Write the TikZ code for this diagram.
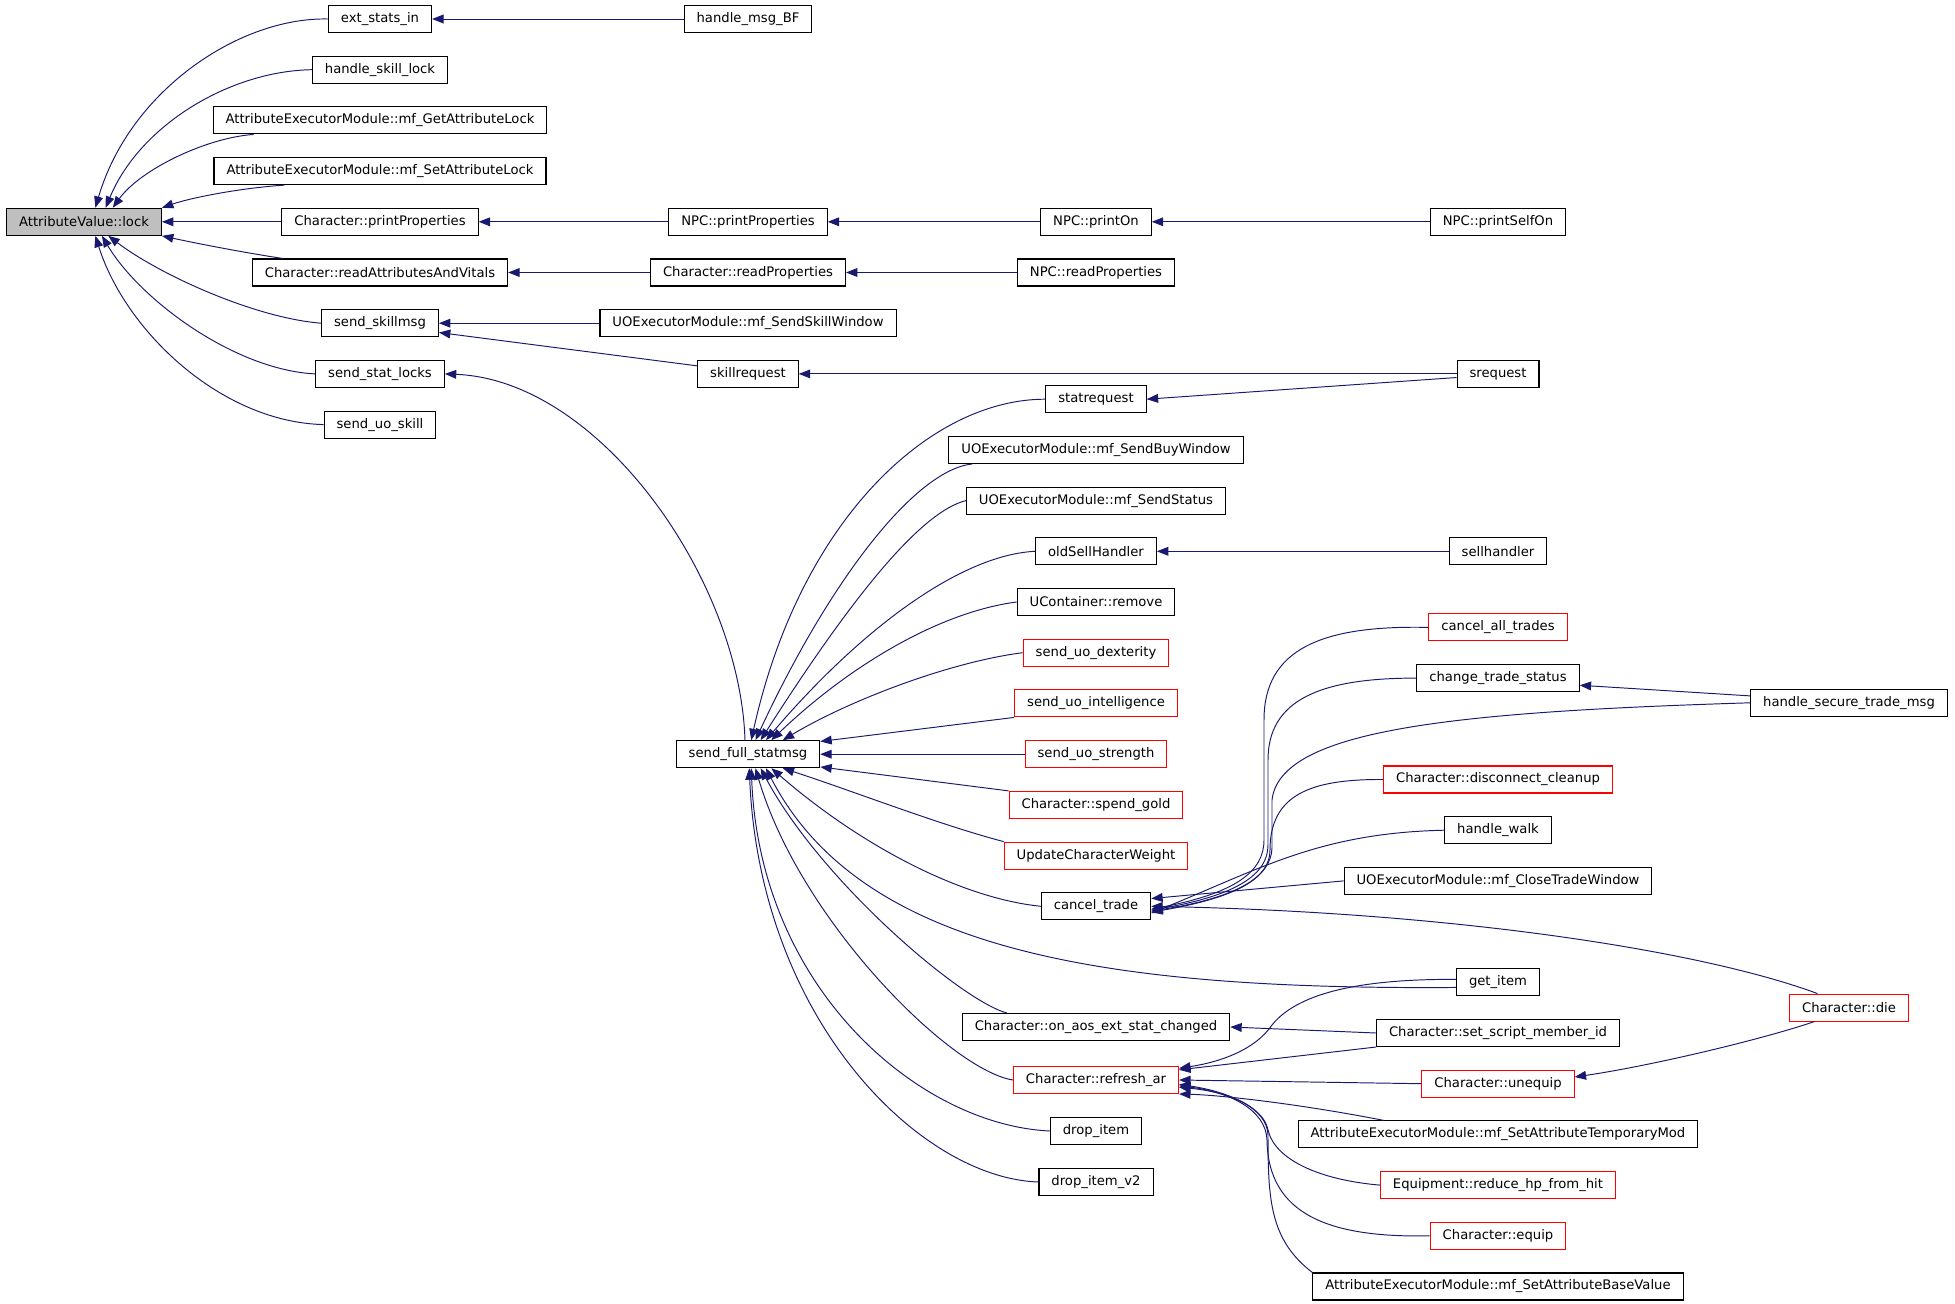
\documentclass[tikz,border=0pt]{standalone}
\usepackage{fontspec}
\setmainfont{DejaVu Sans}
\usepackage{xcolor}
\usepackage{tikz}
\usetikzlibrary{arrows.meta}
\usetikzlibrary{calc}

\definecolor{edgeblue}{HTML}{191970}
\definecolor{redline}{HTML}{FF0000}
\definecolor{mainfill}{HTML}{BFBFBF}

\tikzset{
  fn/.style={draw=black, line width=0.6pt, rectangle, fill=white, minimum height=0.54cm,
    inner xsep=0.25cm, inner ysep=0pt, font=\fontsize{7.5}{9}\selectfont},
  fnred/.style={fn, draw=redline},
  callarrow/.style={draw=edgeblue, line width=0.55pt, -{Triangle[length=6.5pt,width=5pt]}}
}

\begin{document}
\begin{tikzpicture}[x=0.02cm, y=-0.02cm]
        \useasboundingbox (0,0) rectangle (1955,1304);
        \node[fn, fill=mainfill] (lock) at (84,221.8) {AttributeValue::lock};
        \node[fn] (extin) at (380,19) {ext\_stats\_in};
        \node[fn] (skilllock) at (380,69.7) {handle\_skill\_lock};
        \node[fn] (getlock) at (380,120.4) {AttributeExecutorModule::mf\_GetAttributeLock};
        \node[fn] (setlock) at (380,171.1) {AttributeExecutorModule::mf\_SetAttributeLock};
        \node[fn] (chprint) at (380,221.8) {Character::printProperties};
        \node[fn] (readattr) at (380,272.5) {Character::readAttributesAndVitals};
        \node[fn] (skillmsg) at (380,323.2) {send\_skillmsg};
        \node[fn] (statlocks) at (380,373.9) {send\_stat\_locks};
        \node[fn] (uoskill) at (380,424.6) {send\_uo\_skill};

        \node[fn] (msgbf) at (748,19) {handle\_msg\_BF};
        \node[fn] (npcprint) at (748,221.8) {NPC::printProperties};
        \node[fn] (chread) at (748,272.5) {Character::readProperties};
        \node[fn] (skillwin) at (748,323.2) {UOExecutorModule::mf\_SendSkillWindow};
        \node[fn] (skillreq) at (748,373.9) {skillrequest};
        \node[fn] (fullstat) at (748,754.2) {send\_full\_statmsg};

        \node[fn] (printon) at (1096,221.8) {NPC::printOn};
        \node[fn] (npcread) at (1096,272.5) {NPC::readProperties};
        \node[fn] (statreq) at (1096,399.2) {statrequest};
        \node[fn] (buywin) at (1096,449.9) {UOExecutorModule::mf\_SendBuyWindow};
        \node[fn] (sendstatus) at (1096,500.6) {UOExecutorModule::mf\_SendStatus};
        \node[fn] (oldsell) at (1096,551.3) {oldSellHandler};
        \node[fn] (ucremove) at (1096,602) {UContainer::remove};
        \node[fnred] (dex) at (1096,652.7) {send\_uo\_dexterity};
        \node[fnred] (intel) at (1096,703.4) {send\_uo\_intelligence};
        \node[fnred] (str) at (1096,754.2) {send\_uo\_strength};
        \node[fnred] (gold) at (1096,804.9) {Character::spend\_gold};
        \node[fnred] (weight) at (1096,855.6) {UpdateCharacterWeight};
        \node[fn] (canceltrade) at (1096,906.3) {cancel\_trade};
        \node[fn] (aosext) at (1096,1027) {Character::on\_aos\_ext\_stat\_changed};
        \node[fnred] (refresh) at (1096,1080) {Character::refresh\_ar};
        \node[fn] (dropitem) at (1096,1131) {drop\_item};
        \node[fn] (dropitemv) at (1096,1182) {drop\_item\_v2};

        \node[fn] (selfon) at (1498,221.8) {NPC::printSelfOn};
        \node[fn] (sreq) at (1498,373.9) {srequest};
        \node[fn] (sellh) at (1498,551.3) {sellhandler};
        \node[fnred] (cancelall) at (1498,627.4) {cancel\_all\_trades};
        \node[fn] (changetrade) at (1498,678.1) {change\_trade\_status};
        \node[fnred] (disconnect) at (1498,779.5) {Character::disconnect\_cleanup};
        \node[fn] (walk) at (1498,830.2) {handle\_walk};
        \node[fn] (closetrade) at (1498,880.9) {UOExecutorModule::mf\_CloseTradeWindow};
        \node[fn] (getitem) at (1498,982.3) {get\_item};
        \node[fn] (setscript) at (1498,1033) {Character::set\_script\_member\_id};
        \node[fnred] (unequip) at (1498,1083.7) {Character::unequip};
        \node[fn] (tempmod) at (1498,1134.4) {AttributeExecutorModule::mf\_SetAttributeTemporaryMod};
        \node[fnred] (reducehp) at (1498,1185.1) {Equipment::reduce\_hp\_from\_hit};
        \node[fnred] (equip) at (1498,1235.8) {Character::equip};
        \node[fn] (basevalue) at (1498,1286.5) {AttributeExecutorModule::mf\_SetAttributeBaseValue};

        \node[fn] (securetrade) at (1849,702.8) {handle\_secure\_trade\_msg};
        \node[fnred] (die) at (1849,1007.6) {Character::die};

        \foreach \src/\dst in {msgbf/extin, npcprint/chprint, printon/npcprint, selfon/printon,
            chread/readattr, npcread/chread, skillwin/skillmsg, sreq/skillreq, sellh/oldsell,
            str/fullstat, setscript/aosext, unequip/refresh, chprint/lock}
          \draw[callarrow] (\src.west) -- (\dst.east);

        \draw[callarrow] (extin.west) .. controls (240,17) and (130,90) .. (lock.51);
        \draw[callarrow] (skilllock.west) .. controls (230,71) and (140,125) .. (lock.33);
        \draw[callarrow] ($(getlock.south west)+(41,0)$) .. controls (205,138) and (140,170) .. (lock.26);
        \draw[callarrow] ($(setlock.south west)+(71,0)$) .. controls (240,188) and (190,198) .. (lock.north east);
        \draw[callarrow] ($(readattr.north west)+(31,0)$) .. controls (240,252) and (190,242) .. (lock.south east);
        \draw[callarrow] (skillmsg.west) .. controls (255,318) and (160,275) .. (lock.-30);
        \draw[callarrow] (statlocks.west) .. controls (235,370) and (140,300) .. (lock.-38);
        \draw[callarrow] (uoskill.west) .. controls (220,422) and (125,330) .. (lock.-51);

        \draw[callarrow] (skillreq.171) -- (skillmsg.-9);
        \draw[callarrow] (sreq.-175) -- (statreq.east);
        \draw[callarrow] ($(fullstat.north)+(-3,0)$) .. controls (740,580) and (600,380) .. (statlocks.east);

        \draw[callarrow] (statreq.west) .. controls (930,399) and (800,520) .. (fullstat.77);
        \draw[callarrow] ($(buywin.south west)+(24,0)$) .. controls (915,470) and (830,580) .. (fullstat.62);
        \draw[callarrow] (sendstatus.west) .. controls (920,512) and (850,600) .. (fullstat.48);
        \draw[callarrow] (oldsell.west) .. controls (960,555) and (860,630) .. (fullstat.38);
        \draw[callarrow] (ucremove.west) .. controls (940,612) and (850,665) .. (fullstat.31);
        \draw[callarrow] (dex.west) .. controls (950,662) and (850,700) .. (fullstat.22);
        \draw[callarrow] (intel.south west) -- (fullstat.10);
        \draw[callarrow] (gold.north west) -- (fullstat.-10);
        \draw[callarrow] (weight.north west) .. controls (940,825) and (850,790) .. (fullstat.-22);
        \draw[callarrow] (canceltrade.west) .. controls (960,898) and (860,845) .. (fullstat.-31);
        \draw[callarrow] (getitem.-173) .. controls (1100,990) and (860,950) .. (fullstat.-38);
        \draw[callarrow] ($(aosext.north west)+(45,0)$) .. controls (960,1000) and (820,880) .. (fullstat.-48);
        \draw[callarrow] (refresh.west) .. controls (950,1070) and (800,920) .. (fullstat.-62);
        \draw[callarrow] (dropitem.west) .. controls (920,1125) and (760,990) .. (fullstat.-77);
        \draw[callarrow] (dropitemv.west) .. controls (920,1178) and (760,1020) .. (fullstat.-85);

        \draw[callarrow] (cancelall.west) .. controls (1320,625) and (1264,650) .. (1264,720) -- (1264,840)
          .. controls (1264,872) and (1235,893) .. (canceltrade.-3);
        \draw[callarrow] (changetrade.west) .. controls (1320,678) and (1268,700) .. (1268,760) -- (1268,845)
          .. controls (1268,874) and (1238,895) .. (canceltrade.-4);
        \draw[callarrow] (securetrade.west) .. controls (1450,712) and (1280,730) .. (1272,800) -- (1272,848)
          .. controls (1271,876) and (1240,897) .. (canceltrade.-5);
        \draw[callarrow] (disconnect.west) .. controls (1310,779) and (1270,795) .. (1270,850)
          .. controls (1270,877) and (1240,897) .. (canceltrade.-6);
        \draw[callarrow] (walk.west) .. controls (1320,833) and (1262,868) .. (canceltrade.-7);
        \draw[callarrow] (closetrade.west) -- (canceltrade.8);
        \draw[callarrow] (die.156) .. controls (1700,950) and (1450,912) .. (canceltrade.east);
        \draw[callarrow] (securetrade.176) -- (changetrade.-5);

        \draw[callarrow] (getitem.176) .. controls (1370,979) and (1300,990) .. (1272,1025)
          .. controls (1255,1050) and (1220,1062) .. (refresh.8);
        \draw[callarrow] (setscript.south west) -- (refresh.7);
        \draw[callarrow] ($(tempmod.north west)+(86,0)$) .. controls (1300,1104) and (1220,1095) .. (refresh.south east);
        \draw[callarrow] (reducehp.west) .. controls (1320,1180) and (1275,1160) .. (1268,1130)
          .. controls (1264,1108) and (1230,1092) .. (refresh.-3);
        \draw[callarrow] (equip.west) .. controls (1330,1238) and (1268,1215) .. (1267,1140)
          .. controls (1266,1110) and (1230,1092) .. (refresh.-4);
        \draw[callarrow] (basevalue.north west) .. controls (1270,1240) and (1268,1200) .. (1268,1135)
          .. controls (1267,1108) and (1230,1092) .. (refresh.-5);
        \draw[callarrow] (die.-158) .. controls (1760,1040) and (1650,1066) .. (unequip.5);
    \end{tikzpicture}
\end{document}
